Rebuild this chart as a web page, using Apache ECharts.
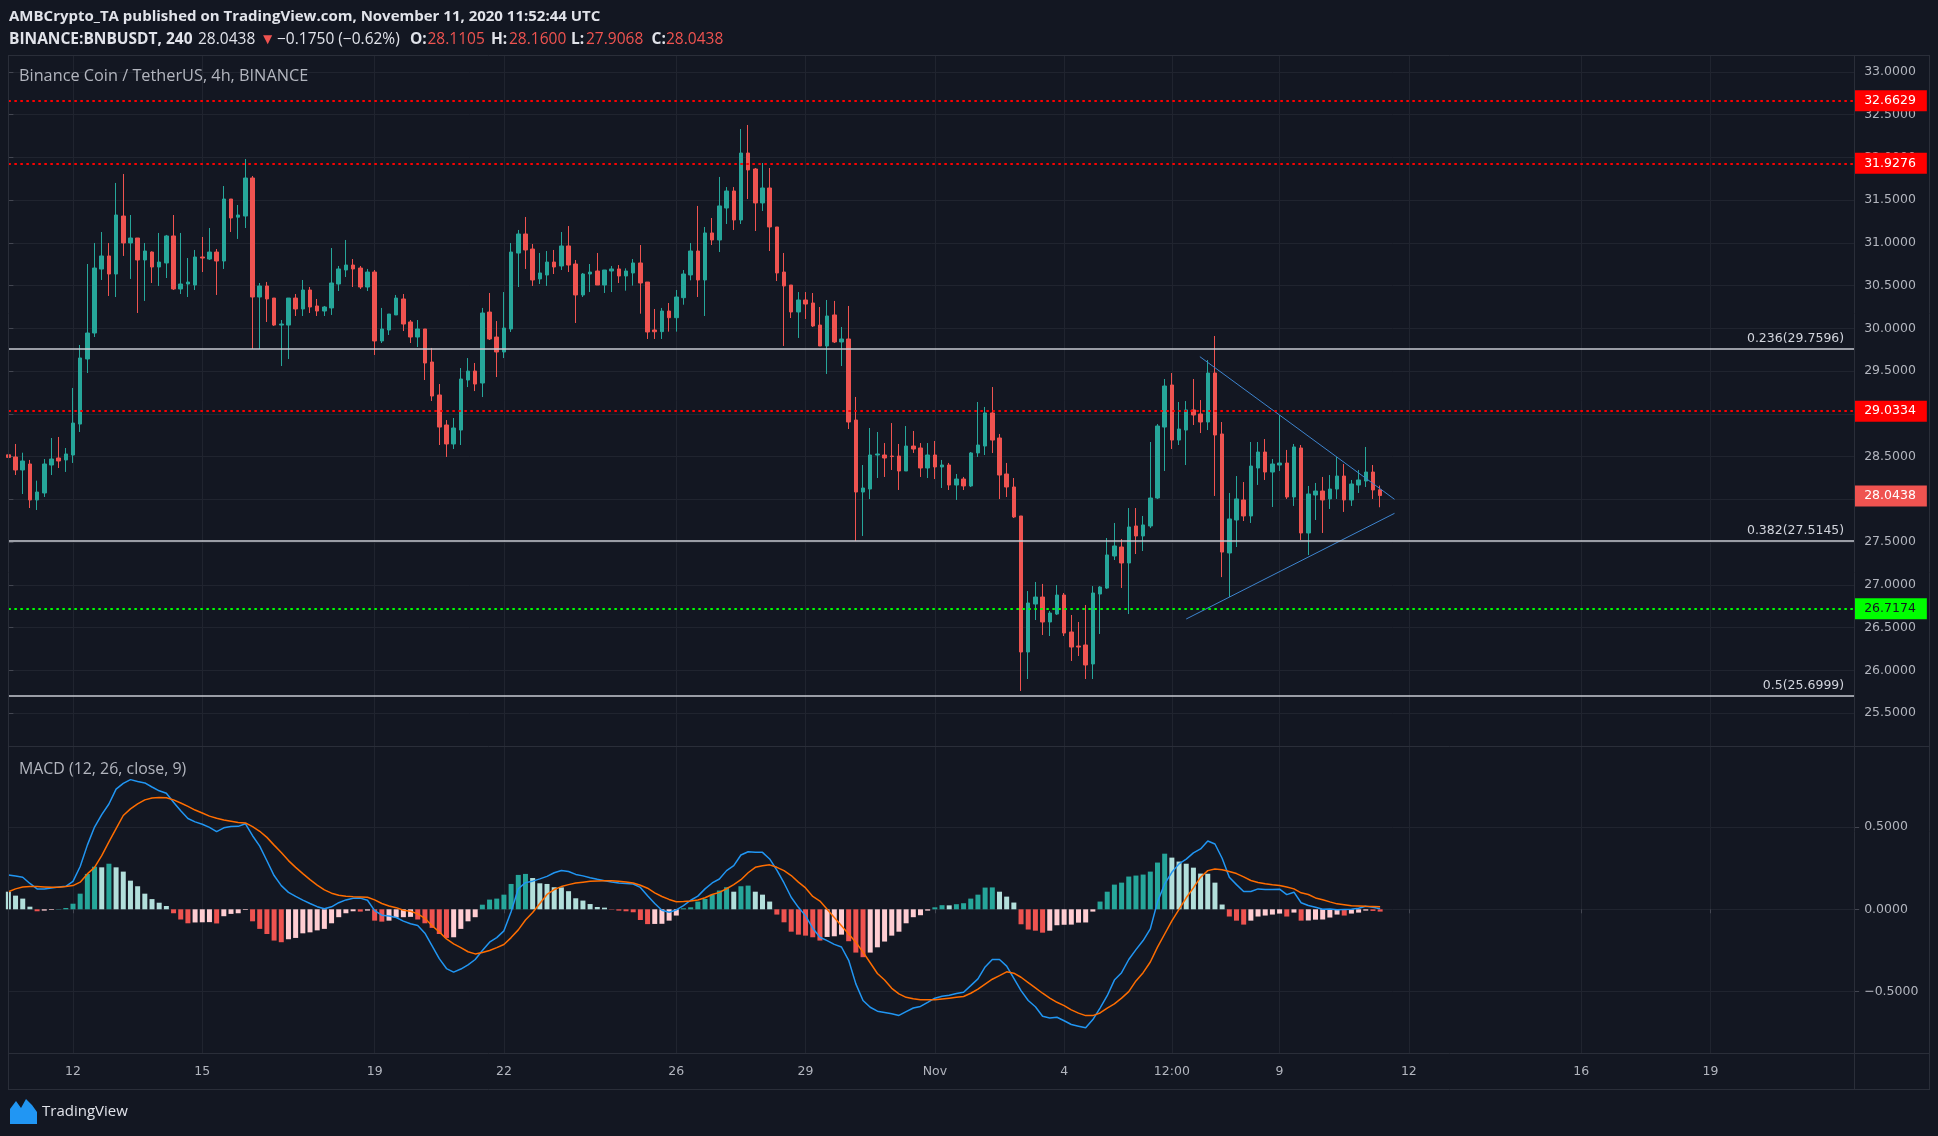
<!DOCTYPE html>
<html>
<head>
<meta charset="utf-8">
<title>Binance Coin / TetherUS, 4h, BINANCE</title>
<script src="https://cdn.jsdelivr.net/npm/echarts@6.0.0/dist/echarts.min.js"></script>
<style>
  html, body { margin: 0; padding: 0; background: #131722; }
  #main { width: 1938px; height: 1136px; }
</style>
</head>
<body>
<div id="main"></div>
<script>
// 4h candles, slot 0 = Oct 10 12:00 UTC, last = Nov 11 08:00
const opens = [28.52, 28.495, 28.343, 28.413, 27.992, 28.074, 28.401, 28.483, 28.46, 28.518,
  28.88, 29.641, 29.945, 30.693, 30.846, 30.635, 31.313, 30.998, 31.056, 30.799,
  30.892, 30.717, 30.764, 31.08, 30.46, 30.518, 30.506, 30.834, 30.81, 30.892,
  30.787, 31.512, 31.30, 31.313, 31.758, 30.366, 30.495, 30.354, 30.038, 30.038,
  30.354, 30.226, 30.448, 30.261, 30.202, 30.238, 30.518, 30.682, 30.74, 30.705,
  30.483, 30.658, 29.852, 29.98, 30.156, 30.343, 30.074, 29.898, 29.992, 29.606,
  29.22, 28.869, 28.647, 28.81, 29.395, 29.50, 29.36, 30.19, 29.898, 29.723,
  29.992, 30.88, 31.103, 30.927, 30.577, 30.623, 30.775, 30.729, 30.963, 30.752,
  30.39, 30.635, 30.67, 30.506, 30.67, 30.694, 30.612, 30.647, 30.764, 30.541,
  29.98, 29.961, 30.202, 30.124, 30.358, 30.624, 30.904, 30.565, 31.115, 31.033,
  31.407, 31.606, 31.267, 32.05, 31.863, 31.466, 31.641, 31.185, 30.658, 30.506,
  30.191, 30.331, 30.296, 30.038, 29.793, 30.156, 29.84, 29.875, 28.927, 28.085,
  28.12, 28.518, 28.518, 28.506, 28.506, 28.331, 28.623, 28.60, 28.366, 28.518,
  28.378, 28.401, 28.167, 28.237, 28.156, 28.542, 28.623, 29.01, 28.717, 28.296,
  28.144, 27.805, 26.214, 26.775, 26.857, 26.565, 26.658, 26.88, 26.448, 26.284,
  26.296, 26.074, 26.892, 26.962, 27.337, 27.442, 27.255, 27.688, 27.571, 27.688,
  28.015, 28.845, 29.337, 28.693, 28.81, 29.045, 28.998, 28.904, 29.477, 28.764,
  27.372, 27.758, 27.992, 27.805, 28.366, 28.553, 28.319, 28.401, 28.424, 28.027,
  28.60, 27.606, 28.05, 28.097, 28.004, 28.12, 28.272, 27.992, 28.167, 28.214,
  28.319, 28.1105]
const highs = [28.56, 28.647, 28.545, 28.46, 28.218, 28.471, 28.717, 28.729, 28.60, 29.302,
  29.805, 30.752, 30.998, 31.126, 30.998, 31.70, 31.805, 31.325, 31.056, 30.998,
  30.90, 31.115, 31.092, 31.325, 31.115, 30.822, 30.916, 31.068, 31.173, 30.927,
  31.664, 31.512, 31.442, 31.98, 31.781, 30.53, 30.542, 30.354, 30.097, 30.354,
  30.401, 30.565, 30.483, 30.343, 30.261, 30.939, 30.729, 31.033, 30.81, 30.729,
  30.694, 30.682, 30.238, 30.167, 30.39, 30.401, 30.097, 30.097, 29.992, 29.77,
  29.348, 28.927, 28.951, 29.535, 29.652, 29.594, 30.238, 30.413, 30.085, 30.424,
  30.998, 31.15, 31.302, 30.986, 30.881, 30.904, 30.916, 31.126, 31.196, 30.799,
  30.647, 30.752, 30.881, 30.682, 30.729, 30.74, 30.701, 30.81, 30.974, 30.541,
  30.226, 30.238, 30.296, 30.448, 30.682, 30.998, 31.431, 31.185, 31.29, 31.77,
  31.652, 31.652, 32.331, 32.378, 31.875, 31.933, 31.875, 31.185, 30.881, 30.506,
  30.424, 30.424, 30.413, 30.249, 30.331, 30.32, 30.015, 30.261, 29.197, 28.401,
  28.834, 28.787, 28.658, 28.892, 28.647, 28.857, 28.799, 28.658, 28.658, 28.682,
  28.46, 28.425, 28.296, 28.261, 28.553, 29.138, 29.08, 29.313, 28.764, 28.425,
  28.249, 27.805, 26.927, 27.033, 27.01, 26.693, 26.997, 26.904, 26.647, 26.565,
  26.764, 26.985, 26.985, 27.547, 27.723, 27.536, 27.898, 27.898, 27.805, 28.67,
  28.88, 29.407, 29.477, 29.138, 29.149, 29.407, 29.161, 29.629, 29.91, 28.904,
  28.074, 28.272, 28.202, 28.67, 28.67, 28.705, 28.471, 28.986, 28.577, 28.647,
  28.635, 28.156, 28.191, 28.261, 28.284, 28.495, 28.413, 28.226, 28.343, 28.612,
  28.401, 28.16]
const lows = [28.46, 28.284, 28.062, 27.898, 27.875, 28.027, 28.284, 28.366, 28.32, 28.425,
  28.787, 29.477, 29.898, 30.565, 30.378, 30.366, 30.846, 30.577, 30.179, 30.32,
  30.53, 30.495, 30.588, 30.448, 30.401, 30.366, 30.448, 30.658, 30.799, 30.39,
  30.694, 31.126, 31.045, 31.173, 29.758, 29.758, 30.074, 30.027, 29.559, 29.641,
  30.144, 30.144, 30.179, 30.144, 30.144, 30.156, 30.436, 30.60, 30.483, 30.46,
  30.436, 29.688, 29.828, 29.922, 30.156, 29.968, 29.828, 29.781, 29.395, 29.15,
  28.635, 28.495, 28.588, 28.635, 29.313, 29.266, 29.196, 29.863, 29.43, 29.652,
  29.957, 30.483, 30.694, 30.495, 30.518, 30.495, 30.635, 30.682, 30.658, 30.062,
  30.366, 30.424, 30.506, 30.413, 30.424, 30.53, 30.44, 30.499, 30.171, 29.875,
  29.875, 29.875, 29.961, 29.961, 30.276, 30.561, 30.366, 30.144, 30.974, 30.892,
  31.22, 31.15, 31.22, 31.512, 31.138, 31.372, 30.904, 30.553, 29.793, 30.12,
  29.887, 30.109, 30.015, 29.793, 29.466, 29.828, 29.559, 28.822, 27.512, 27.571,
  28.003, 28.249, 28.261, 28.343, 28.109, 28.331, 28.542, 28.261, 28.249, 28.237,
  28.132, 28.109, 27.992, 28.109, 28.144, 28.495, 28.518, 28.541, 28.003, 28.027,
  27.781, 25.758, 25.898, 26.588, 26.413, 26.401, 26.647, 26.401, 26.109, 26.167,
  25.898, 25.898, 26.425, 26.951, 27.29, 26.963, 26.658, 27.36, 27.395, 27.665,
  28.003, 28.331, 28.588, 28.635, 28.401, 28.869, 28.775, 28.81, 28.039, 27.09,
  26.857, 27.442, 27.746, 27.723, 28.168, 28.226, 27.91, 28.331, 28.004, 27.922,
  27.524, 27.348, 27.758, 27.606, 27.887, 28.004, 27.852, 27.922, 28.074, 28.144,
  28.004, 27.9068]
const closes = [28.49, 28.343, 28.448, 27.992, 28.085, 28.413, 28.471, 28.448, 28.53, 28.892,
  29.653, 29.945, 30.705, 30.846, 30.635, 31.325, 30.998, 31.056, 30.799, 30.904,
  30.717, 30.775, 31.08, 30.46, 30.518, 30.541, 30.834, 30.822, 30.892, 30.787,
  31.512, 31.29, 31.325, 31.758, 30.366, 30.495, 30.343, 30.038, 30.05, 30.354,
  30.226, 30.448, 30.249, 30.202, 30.249, 30.53, 30.694, 30.74, 30.694, 30.483,
  30.658, 29.852, 29.992, 30.167, 30.354, 30.05, 29.898, 29.992, 29.594, 29.208,
  28.845, 28.647, 28.834, 29.407, 29.50, 29.348, 30.179, 29.875, 29.723, 30.003,
  30.892, 31.103, 30.916, 30.565, 30.647, 30.775, 30.717, 30.963, 30.74, 30.39,
  30.635, 30.658, 30.506, 30.682, 30.694, 30.612, 30.67, 30.764, 30.53, 29.957,
  29.96, 30.202, 30.124, 30.366, 30.635, 30.904, 30.565, 31.115, 31.033, 31.431,
  31.606, 31.267, 32.05, 31.852, 31.466, 31.641, 31.185, 30.647, 30.495, 30.191,
  30.331, 30.284, 30.027, 29.793, 30.144, 29.84, 29.875, 28.904, 28.085, 28.132,
  28.518, 28.53, 28.483, 28.50, 28.331, 28.623, 28.588, 28.366, 28.518, 28.378,
  28.401, 28.167, 28.237, 28.156, 28.542, 28.635, 29.01, 28.693, 28.284, 28.144,
  27.793, 26.214, 26.787, 26.857, 26.565, 26.67, 26.88, 26.436, 26.272, 26.272,
  26.062, 26.904, 26.974, 27.349, 27.454, 27.255, 27.676, 27.571, 27.70, 28.015,
  28.857, 29.325, 28.693, 28.822, 29.045, 28.986, 28.904, 29.477, 28.752, 27.383,
  27.77, 28.004, 27.805, 28.389, 28.553, 28.319, 28.413, 28.424, 28.027, 28.612,
  27.606, 28.062, 28.097, 27.992, 28.12, 28.272, 27.992, 28.179, 28.226, 28.319,
  28.109, 28.0438]

// MACD (12, 26, close, 9)
const macdLine = [0.209, 0.202, 0.195, 0.157, 0.124, 0.124, 0.130, 0.136, 0.140, 0.170,
  0.260, 0.390, 0.500, 0.575, 0.640, 0.730, 0.765, 0.788, 0.777, 0.768,
  0.743, 0.720, 0.705, 0.650, 0.599, 0.552, 0.531, 0.517, 0.498, 0.472,
  0.495, 0.503, 0.504, 0.520, 0.447, 0.384, 0.295, 0.205, 0.144, 0.103,
  0.079, 0.056, 0.035, 0.016, 0.003, 0.015, 0.040, 0.057, 0.067, 0.068,
  0.055, -0.008, -0.036, -0.041, -0.050, -0.072, -0.088, -0.098, -0.145, -0.222,
  -0.300, -0.360, -0.382, -0.363, -0.338, -0.305, -0.250, -0.200, -0.172, -0.131,
  -0.015, 0.125, 0.162, 0.171, 0.185, 0.200, 0.222, 0.236, 0.230, 0.212,
  0.203, 0.192, 0.182, 0.173, 0.166, 0.160, 0.157, 0.154, 0.133, 0.082,
  0.035, -0.006, -0.018, -0.004, 0.022, 0.055, 0.080, 0.124, 0.160, 0.184,
  0.235, 0.265, 0.330, 0.350, 0.346, 0.346, 0.306, 0.238, 0.160, 0.073,
  0.012, -0.040, -0.115, -0.170, -0.190, -0.213, -0.229, -0.310, -0.453, -0.554,
  -0.595, -0.619, -0.627, -0.635, -0.645, -0.622, -0.600, -0.590, -0.566, -0.540,
  -0.528, -0.522, -0.512, -0.504, -0.464, -0.423, -0.350, -0.305, -0.305, -0.345,
  -0.420, -0.494, -0.554, -0.592, -0.650, -0.660, -0.656, -0.677, -0.700, -0.710,
  -0.720, -0.670, -0.600, -0.525, -0.430, -0.385, -0.305, -0.245, -0.190, -0.119,
  0.045, 0.154, 0.225, 0.276, 0.305, 0.343, 0.367, 0.415, 0.397, 0.310,
  0.195, 0.150, 0.108, 0.108, 0.124, 0.120, 0.120, 0.122, 0.089, 0.104,
  0.040, 0.023, 0.012, 0.000, 0.002, -0.003, -0.001, 0.000, 0.006, 0.018,
  0.012, 0.004]
const signalLine = [0.107, 0.124, 0.135, 0.138, 0.138, 0.136, 0.134, 0.134, 0.138, 0.144,
  0.165, 0.215, 0.255, 0.326, 0.410, 0.490, 0.570, 0.610, 0.640, 0.665,
  0.676, 0.680, 0.678, 0.665, 0.646, 0.625, 0.603, 0.585, 0.566, 0.553,
  0.542, 0.535, 0.528, 0.525, 0.502, 0.474, 0.437, 0.390, 0.345, 0.296,
  0.255, 0.217, 0.180, 0.147, 0.118, 0.098, 0.085, 0.080, 0.077, 0.075,
  0.073, 0.057, 0.035, 0.020, 0.010, -0.006, -0.012, -0.028, -0.055, -0.100,
  -0.137, -0.180, -0.210, -0.233, -0.258, -0.271, -0.262, -0.250, -0.233, -0.214,
  -0.172, -0.125, -0.065, -0.020, 0.035, 0.090, 0.120, 0.138, 0.150, 0.160,
  0.165, 0.170, 0.172, 0.174, 0.173, 0.171, 0.166, 0.160, 0.146, 0.128,
  0.100, 0.078, 0.060, 0.046, 0.047, 0.050, 0.057, 0.070, 0.090, 0.103,
  0.125, 0.150, 0.180, 0.222, 0.255, 0.265, 0.270, 0.255, 0.235, 0.205,
  0.165, 0.130, 0.078, 0.050, 0.000, -0.050, -0.100, -0.150, -0.200, -0.260,
  -0.325, -0.390, -0.430, -0.480, -0.514, -0.535, -0.544, -0.550, -0.550, -0.550,
  -0.545, -0.540, -0.535, -0.530, -0.510, -0.485, -0.455, -0.425, -0.403, -0.380,
  -0.388, -0.413, -0.445, -0.477, -0.510, -0.540, -0.565, -0.585, -0.611, -0.631,
  -0.646, -0.646, -0.630, -0.600, -0.575, -0.540, -0.500, -0.435, -0.385, -0.320,
  -0.230, -0.150, -0.070, 0.000, 0.070, 0.130, 0.195, 0.235, 0.245, 0.240,
  0.230, 0.217, 0.197, 0.175, 0.163, 0.155, 0.149, 0.144, 0.135, 0.124,
  0.100, 0.090, 0.069, 0.058, 0.045, 0.033, 0.028, 0.022, 0.020, 0.018,
  0.017, 0.016]
const histValues = [0.107, 0.083, 0.065, 0.016, -0.012, -0.008, -0.004, 0.002, 0.008, 0.034,
  0.095, 0.215, 0.259, 0.255, 0.277, 0.255, 0.229, 0.174, 0.140, 0.095,
  0.062, 0.040, 0.020, -0.024, -0.062, -0.085, -0.080, -0.079, -0.078, -0.086,
  -0.042, -0.028, -0.024, -0.004, -0.073, -0.119, -0.150, -0.190, -0.200, -0.182,
  -0.174, -0.146, -0.140, -0.128, -0.119, -0.085, -0.048, -0.024, -0.012, -0.014,
  -0.008, -0.069, -0.075, -0.069, -0.050, -0.048, -0.046, -0.062, -0.085, -0.113,
  -0.150, -0.174, -0.170, -0.119, -0.073, -0.048, 0.028, 0.059, 0.065, 0.089,
  0.154, 0.209, 0.215, 0.190, 0.158, 0.154, 0.134, 0.133, 0.110, 0.067,
  0.053, 0.032, 0.014, 0.010, -0.002, -0.008, -0.012, -0.018, -0.065, -0.090,
  -0.089, -0.088, -0.069, -0.038, 0.006, 0.012, 0.047, 0.063, 0.089, 0.114,
  0.134, 0.107, 0.140, 0.144, 0.107, 0.089, 0.047, -0.032, -0.079, -0.136,
  -0.154, -0.160, -0.170, -0.190, -0.168, -0.164, -0.154, -0.194, -0.263, -0.291,
  -0.263, -0.231, -0.196, -0.160, -0.136, -0.085, -0.048, -0.036, -0.008, 0.012,
  0.025, 0.024, 0.031, 0.037, 0.065, 0.089, 0.132, 0.133, 0.107, 0.077,
  0.041, -0.091, -0.123, -0.130, -0.142, -0.130, -0.097, -0.094, -0.093, -0.081,
  -0.080, -0.014, 0.047, 0.107, 0.150, 0.162, 0.199, 0.205, 0.211, 0.229,
  0.284, 0.338, 0.314, 0.290, 0.277, 0.253, 0.217, 0.216, 0.162, 0.029,
  -0.044, -0.069, -0.093, -0.069, -0.044, -0.038, -0.032, -0.026, -0.044, -0.020,
  -0.069, -0.068, -0.063, -0.062, -0.050, -0.032, -0.038, -0.026, -0.020, -0.008,
  -0.010, -0.014]

// time axis: slots shown on the chart, and which slots get a label
const slotCount = 258
const tickIndex = [9, 27, 51, 69, 93, 111, 129, 147, 162, 177, 195, 219, 237]
const tickLabels = ['12', '15', '19', '22', '26', '29', 'Nov', '4', '12:00', '9', '12', '16', '19']

const priceTicks = [25.5, 26, 26.5, 27, 27.5, 28, 28.5, 29, 29.5, 30, 30.5, 31, 31.5, 32, 32.5, 33]
const macdTicks = [-0.5, 0, 0.5]

// drawn levels
const redLevels = [32.6629, 31.9276, 29.0334]
const greenLevel = 26.7174
const lastPrice = 28.0438
const fibRatios = ['0.236', '0.382', '0.5']
const fibPrices = [29.7596, 27.5145, 25.6999]

// triangle drawn over the last candles, points as [slot, price]
const upperTrend = [[165.9, 29.668], [193.0, 28.0]]
const lowerTrend = [[164.0, 26.60], [193.0, 27.836]]

const bg = '#131722'
const gridColor = '#20242f'
const border = '#2a2e39'
const axisText = '#b2b5be'
const headText = '#e1e3ea'
const upColor = '#26a69a'
const downColor = '#ef5350'
const axisFont = 'DejaVu Sans'
const uiFont = '"Open Sans", "Noto Sans", sans-serif'

const slots = []
for (let k = 0; k < slotCount; k++) slots.push(String(k))
const labelAt = {}
tickIndex.forEach((t, k) => { labelAt[t] = tickLabels[k] })
const isTick = (index) => labelAt[index] !== undefined

const candles = opens.map((o, k) => [o, closes[k], lows[k], highs[k]])

function histColor(k) {
  const v = histValues[k]
  const p = k > 0 ? histValues[k - 1] : v
  if (v >= 0) return p < v ? '#26a69a' : '#b2dfdb'
  return p < v ? '#ffcdd2' : '#ef5350'
}

function priceBox(v, fill, text) {
  return {
    show: true, position: 'end', distance: 0,
    formatter: v.toFixed(4),
    backgroundColor: fill, color: text,
    padding: [4, 11, 4, 10],
    fontSize: 12.5, fontFamily: axisFont, lineHeight: 13
  }
}

const levelLines = []
redLevels.forEach(v => levelLines.push({
  yAxis: v,
  lineStyle: { color: '#ff0000', width: 2, type: [2.5, 3.5] },
  label: priceBox(v, '#ff0000', '#ffffff')
}))
levelLines.push({
  yAxis: greenLevel,
  lineStyle: { color: '#00ff00', width: 2, type: [2.5, 3.5] },
  label: priceBox(greenLevel, '#00ff00', '#131722')
})
fibPrices.forEach((v, k) => levelLines.push({
  yAxis: v,
  lineStyle: { color: '#c8cbd3', width: 1.5, type: 'solid' },
  label: {
    show: true, position: 'insideEndTop', distance: [10, 4],
    formatter: fibRatios[k] + '(' + v.toFixed(4) + ')',
    color: '#d1d4dc', fontSize: 12.5, fontFamily: axisFont
  }
}))
levelLines.push({
  yAxis: lastPrice,
  lineStyle: { color: 'rgba(0,0,0,0)', width: 1 },
  label: priceBox(lastPrice, '#ef5350', '#ffffff')
})

function timeAxis(gridIndex, withLabels) {
  return {
    type: 'category', gridIndex, data: slots, boundaryGap: false,
    axisLine: { show: false },
    axisTick: { show: withLabels, interval: isTick, length: 4, lineStyle: { color: '#434651' } },
    axisLabel: {
      show: withLabels, interval: isTick, margin: 12,
      formatter: (value, index) => labelAt[index] || '',
      color: axisText, fontSize: 12.5, fontFamily: axisFont
    },
    splitLine: { show: true, interval: isTick, lineStyle: { color: gridColor, width: 1 } }
  }
}

function line(x1, y1, x2, y2) {
  return { type: 'line', silent: true, z: 50, shape: { x1, y1, x2, y2 }, style: { stroke: border, lineWidth: 1 } }
}

// header line 2: each piece gets the width it takes in the original
function seg(width, weight, color) {
  return { fontFamily: uiFont, fontSize: 15.5, fontWeight: weight, color, width, align: 'left' }
}

const chart = echarts.init(document.getElementById('main'))
const option = {
  backgroundColor: bg,
  animation: false,
  textStyle: { fontFamily: uiFont },
  title: [
    {
      left: 9, top: 9, padding: 0,
      text: '{b|AMBCrypto_TA}{n| published on TradingView.com, November 11, 2020 11:52:44 UTC}',
      textStyle: {
        rich: {
          b: { fontFamily: uiFont, fontSize: 15, fontWeight: 'bold', color: headText },
          n: { fontFamily: uiFont, fontSize: 15, color: headText }
        }
      }
    },
    {
      left: 9, top: 31.5, padding: 0,
      text: '{a|BINANCE:BNBUSDT, 240}{p|28.0438}{t|\u25BC}{q|\u22120.1750 (\u22120.62%)}' +
        '{o|O:}{v1|28.1105}{h|H:}{v2|28.1600}{l|L:}{v3|27.9068}{c|C:}{v4|28.0438}',
      textStyle: {
        rich: {
          a: seg(189, 'bold', headText),
          p: seg(62, 'normal', headText),
          t: seg(17, 'normal', downColor),
          q: seg(133, 'normal', headText),
          o: seg(17.5, 'bold', headText),
          v1: seg(63.5, 'normal', downColor),
          h: seg(18, 'bold', headText),
          v2: seg(62, 'normal', downColor),
          l: seg(15, 'bold', headText),
          v3: seg(65.5, 'normal', downColor),
          c: seg(14.5, 'bold', headText),
          v4: seg(60, 'normal', downColor)
        }
      }
    },
    {
      left: 19, top: 68.5, padding: 0,
      text: 'Binance Coin / TetherUS, 4h, BINANCE',
      textStyle: { fontFamily: uiFont, fontSize: 16.3, fontWeight: 'normal', color: axisText }
    },
    {
      left: 19, top: 761, padding: 0,
      text: 'MACD (12, 26, close, 9)',
      textStyle: { fontFamily: uiFont, fontSize: 15.9, fontWeight: 'normal', color: axisText }
    }
  ],
  grid: [
    { left: 8.36, top: 55, width: 1845.8, height: 691.7 },
    { left: 8.36, top: 746.7, width: 1845.8, height: 306.6 }
  ],
  xAxis: [
    timeAxis(0, false),
    timeAxis(1, true),
    { type: 'value', gridIndex: 0, min: 0, max: slotCount - 1, show: false }
  ],
  yAxis: [
    {
      type: 'value', gridIndex: 0, position: 'right',
      min: 25.1064, max: 33.1965,
      axisLine: { show: false },
      axisTick: { show: true, customValues: priceTicks, length: 5, lineStyle: { color: '#434651' } },
      axisLabel: {
        customValues: priceTicks, margin: 10,
        formatter: v => v.toFixed(4),
        color: axisText, fontSize: 12.5, fontFamily: axisFont
      },
      splitLine: { show: true, lineStyle: { color: gridColor, width: 1 } }
    },
    {
      type: 'value', gridIndex: 1, position: 'right',
      min: -0.875, max: 0.988,
      axisLine: { show: false },
      axisTick: { show: true, customValues: macdTicks, length: 5, lineStyle: { color: '#434651' } },
      axisLabel: {
        customValues: macdTicks, margin: 10,
        formatter: v => (v < 0 ? '\u2212' : '') + Math.abs(v).toFixed(4),
        color: axisText, fontSize: 12.5, fontFamily: axisFont
      },
      splitLine: { show: true, lineStyle: { color: gridColor, width: 1 } }
    }
  ],
  series: [
    {
      name: 'levels', type: 'line', xAxisIndex: 0, yAxisIndex: 0, data: [],
      clip: false, silent: true,
      markLine: { silent: true, symbol: ['none', 'none'], animation: false, data: levelLines }
    },
    {
      name: 'BNBUSDT', type: 'candlestick', xAxisIndex: 0, yAxisIndex: 0,
      data: candles, barWidth: 4, clip: true,
      itemStyle: { color: upColor, color0: downColor, borderColor: upColor, borderColor0: downColor, borderWidth: 1 }
    },
    {
      name: 'upper', type: 'line', xAxisIndex: 2, yAxisIndex: 0, data: upperTrend,
      symbol: 'none', silent: true, lineStyle: { color: '#3d84cf', width: 1 }
    },
    {
      name: 'lower', type: 'line', xAxisIndex: 2, yAxisIndex: 0, data: lowerTrend,
      symbol: 'none', silent: true, lineStyle: { color: '#3d84cf', width: 1 }
    },
    {
      name: 'Histogram', type: 'bar', xAxisIndex: 1, yAxisIndex: 1,
      data: histValues, barWidth: 5,
      itemStyle: { color: p => histColor(p.dataIndex) }
    },
    {
      name: 'MACD', type: 'line', xAxisIndex: 1, yAxisIndex: 1, data: macdLine,
      symbol: 'none', lineStyle: { color: '#2196f3', width: 1.5 }
    },
    {
      name: 'Signal', type: 'line', xAxisIndex: 1, yAxisIndex: 1, data: signalLine,
      symbol: 'none', lineStyle: { color: '#ff6d00', width: 1.5 }
    }
  ],
  graphic: [
    line(8, 55.5, 1930, 55.5),
    line(8, 746.5, 1930, 746.5),
    line(8, 1053.5, 1930, 1053.5),
    line(8, 1089.5, 1930, 1089.5),
    line(8.5, 55, 8.5, 1090),
    line(1854.5, 55, 1854.5, 1090),
    line(1929.5, 55, 1929.5, 1090),
    {
      type: 'polygon', silent: true,
      shape: { points: [[10, 1124], [10, 1109], [16, 1101], [21, 1108], [26, 1099], [32, 1105], [37, 1112], [37, 1124]] },
      style: { fill: '#2196f3' }
    },
    {
      type: 'text', silent: true, x: 42, y: 1112,
      style: { text: 'TradingView', font: '15px "Open Sans"', fill: headText, verticalAlign: 'middle', textVerticalAlign: 'middle' }
    }
  ]
}
chart.setOption(option)
</script>
</body>
</html>
